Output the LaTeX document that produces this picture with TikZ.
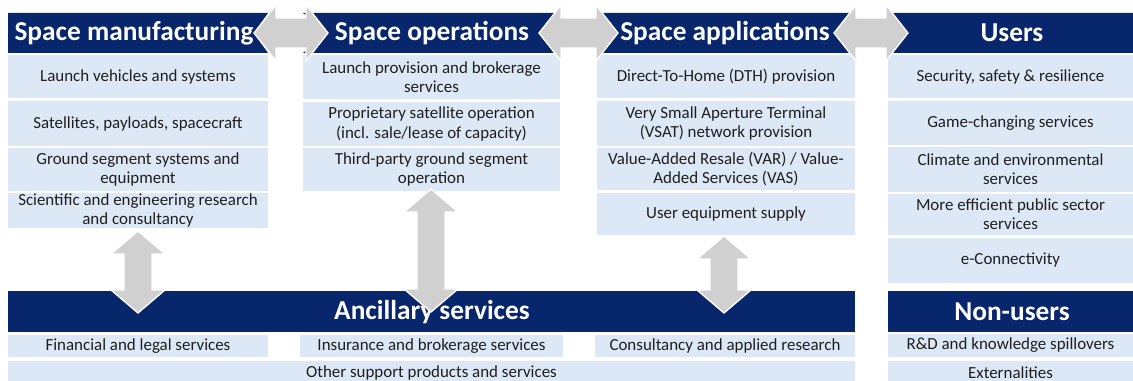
\documentclass[tikz,border=0pt]{standalone}
\usepackage{fontspec}
\setmainfont{Carlito}
\definecolor{navy}{RGB}{8,38,108}
\definecolor{lightb}{RGB}{221,232,246}
\definecolor{arrgray}{RGB}{208,208,208}
\definecolor{txt}{RGB}{30,30,30}
\newcommand{\lbx}[6]{\node[lbox,minimum width={(#4-#2)*0.75pt},minimum height={(#5-#3)*0.75pt}] (#1) at ({(#2+#4)/2},{(#3+#5)/2}) {#6};}
\newcommand{\hdarr}[3]{\path[garrow] (#1,#3) -- ({#1+22},{#3-28}) -- ({#1+22},{#3-15}) -- ({#2-22},{#3-15}) -- ({#2-22},{#3-28}) -- (#2,#3) -- ({#2-22},{#3+28}) -- ({#2-22},{#3+15}) -- ({#1+22},{#3+15}) -- ({#1+22},{#3+28}) -- cycle;}
\newcommand{\vdarr}[3]{\path[garrow] (#1,#2) -- ({#1+27},{#2+23}) -- ({#1+14},{#2+23}) -- ({#1+14},{#3-23}) -- ({#1+27},{#3-23}) -- (#1,#3) -- ({#1-27},{#3-23}) -- ({#1-14},{#3-23}) -- ({#1-14},{#2+23}) -- ({#1-27},{#2+23}) -- cycle;}
\begin{document}
\begin{tikzpicture}[x=0.75pt,y=-0.75pt,
  lbox/.style={fill=lightb,inner sep=0pt,align=center,text=txt,font=\fontsize{12.7}{14.3}\selectfont},
  htext/.style={text=white,inner sep=0pt,font=\bfseries\fontsize{20.5}{24}\selectfont},
  hfill/.style={fill=navy},
  garrow/.style={fill=arrgray,draw=white,line width=1pt}]
\useasboundingbox (0,0) rectangle (1133,381);
\clip (0,0) rectangle (1133,381);
% column 1
\lbx{m1}{8}{55}{268}{98}{Launch vehicles and systems}
\lbx{m2}{8}{101}{268}{146}{Satellites, payloads, spacecraft}
\lbx{m3}{8}{148}{268}{191}{Ground segment systems and\\equipment}
\lbx{m4}{8}{193}{268}{228}{Scientific and engineering research\\and consultancy}
% column 2
\lbx{o1}{303}{55}{560}{99}{Launch provision and brokerage\\services}
\lbx{o2}{303}{102}{560}{146}{Proprietary satellite operation\\(incl. sale/lease of capacity)}
\lbx{o3}{303}{148}{560}{191}{Third-party ground segment\\operation}
% column 3
\lbx{a1}{597}{55}{855}{98}{Direct-To-Home (DTH) provision}
\lbx{a2}{597}{101}{855}{146}{Very Small Aperture Terminal\\(VSAT) network provision}
\lbx{a3}{597}{148}{855}{190}{Value-Added Resale (VAR) / Value-\\Added Services (VAS)}
\lbx{a4}{597}{193}{855}{235}{User equipment supply}
% column 4
\lbx{u1}{888}{55}{1133}{98}{Security, safety \& resilience}
\lbx{u2}{888}{101}{1133}{145}{Game-changing services}
\lbx{u3}{888}{147}{1133}{192}{Climate and environmental\\services}
\lbx{u4}{888}{194}{1133}{235}{More efficient public sector\\services}
\lbx{u5}{888}{238}{1133}{283}{e-Connectivity}
\lbx{n1}{888}{334}{1133}{357}{R\&D and knowledge spillovers}
\lbx{n2}{888}{361}{1133}{384}{Externalities}
% ancillary
\lbx{s1}{8}{335}{268}{357}{Financial and legal services}
\lbx{s2}{300}{335}{563}{357}{Insurance and brokerage services}
\lbx{s3}{595}{335}{855}{357}{Consultancy and applied research}
\lbx{s4}{8}{361}{855}{384}{Other support products and services}
% headers
\fill[hfill] (8,13) -- (268,13) -- (254,33) -- (268,53) -- (8,53) -- cycle;
\fill[hfill] (303,13) -- (560,13) -- (539,33) -- (560,53) -- (303,53) -- (328,33) -- cycle;
\fill[hfill] (597,13) -- (855,13) -- (834,33) -- (855,53) -- (597,53) -- (618,33) -- cycle;
\fill[hfill] (888,13) -- (1133,13) -- (1133,53) -- (888,53) -- (908,33) -- cycle;
\fill[hfill] (8,291) rectangle (855,332);
\fill[hfill] (888,291) rectangle (1133,332);
\node[htext] (hm) at (134,33) {Space manufacturing};
\node[htext] (ho) at (432,33) {Space operations};
\node[htext] (ha) at (725,33) {Space applications};
\node[htext] (hu) at (1012,33) {Users};
\node[htext] (hs) at (432,312) {Ancillary services};
\node[htext] (hn) at (1012,312) {Non-users};
% gray double arrows
\hdarr{254}{328}{33}
\hdarr{539}{618}{33}
\hdarr{834}{908}{33}
\vdarr{138}{231}{313}
\vdarr{431}{189}{312}
\vdarr{724}{236}{313}
\end{tikzpicture}
\end{document}
